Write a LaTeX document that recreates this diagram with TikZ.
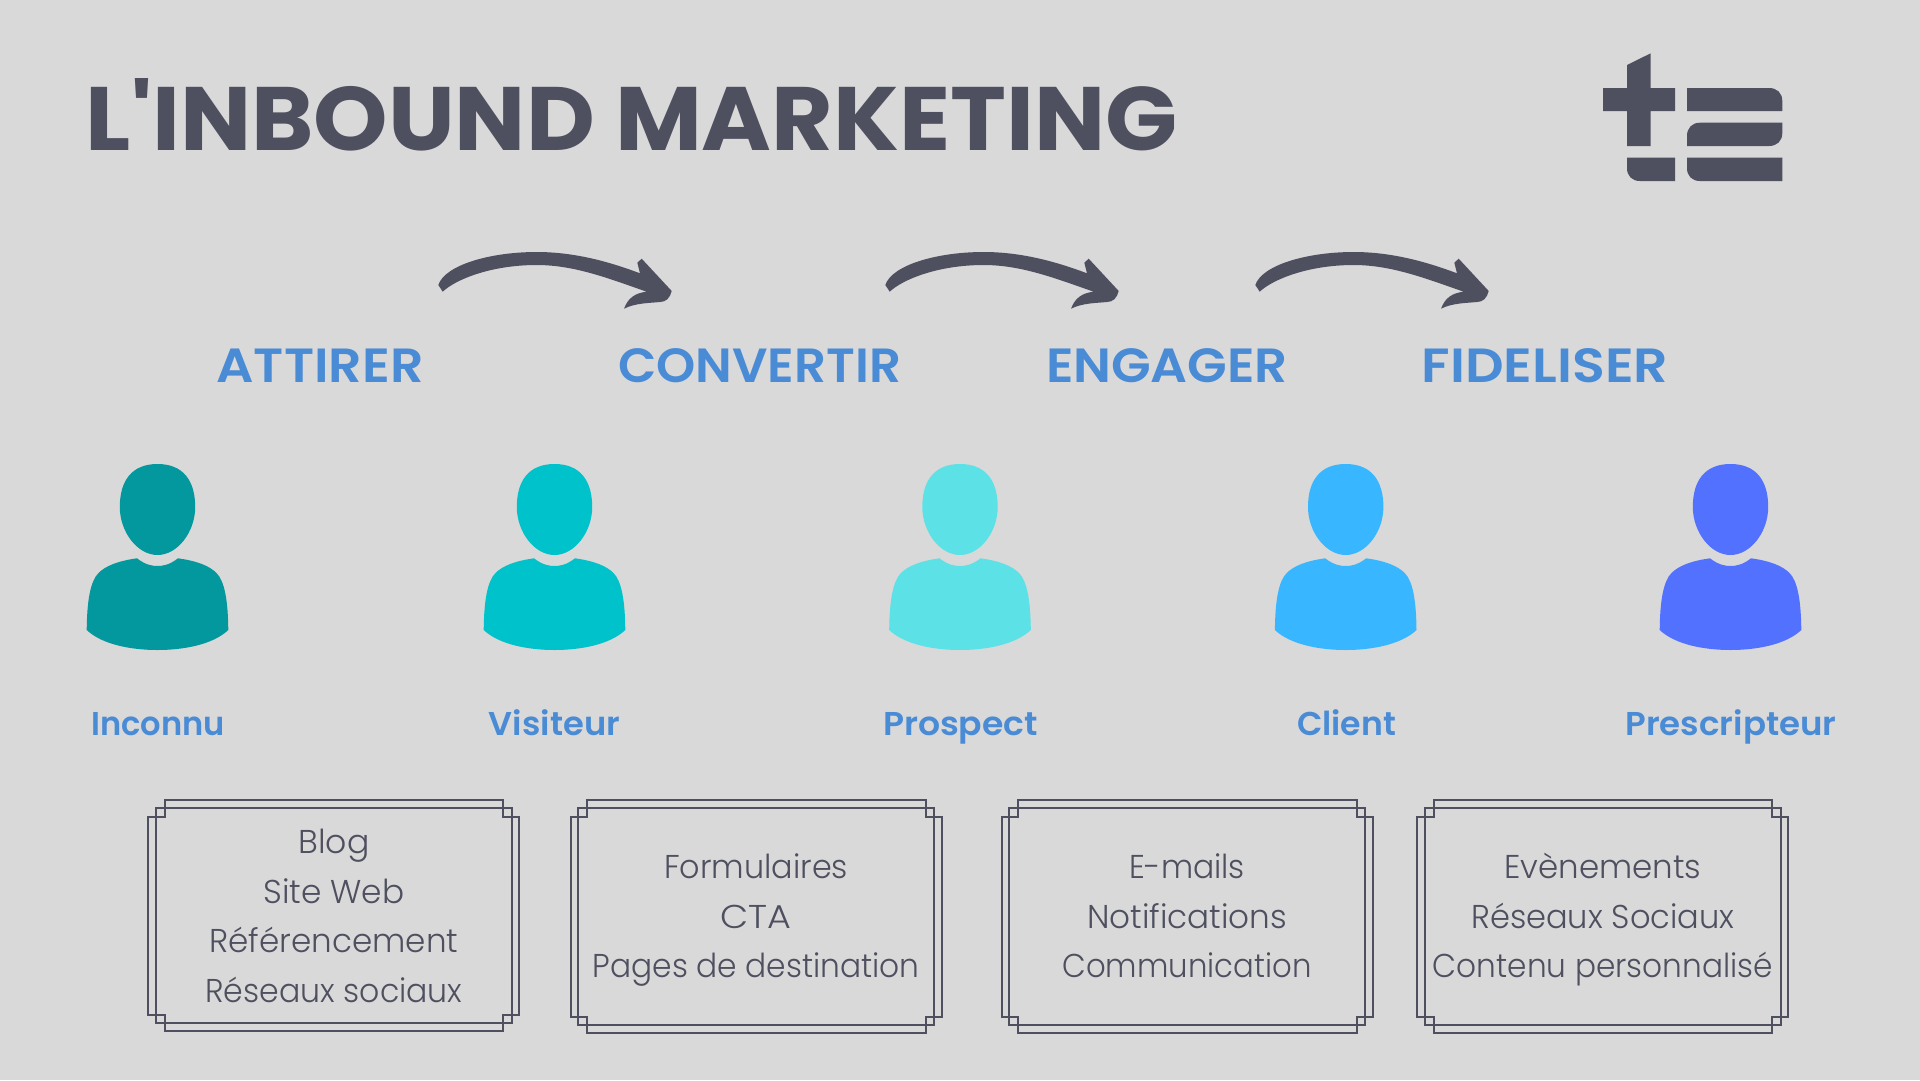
\documentclass[tikz,border=0pt]{standalone}
\usepackage{fontspec}
\usepackage{graphicx}
\setmainfont{Poppins}[Ligatures=TeXOff,UprightFont=* Light,BoldFont=* SemiBold]
\newfontfamily\titlefont{Poppins}[Ligatures=TeXOff,UprightFont=* Bold]
\definecolor{bgc}{HTML}{D9D9D9}
\definecolor{dark}{HTML}{4E4F5F}
\definecolor{headc}{HTML}{4A8BD6}
\definecolor{pa}{HTML}{03989E}
\definecolor{pb}{HTML}{00C2CB}
\definecolor{pc}{HTML}{5CE1E6}
\definecolor{pd}{HTML}{38B6FF}
\definecolor{pe}{HTML}{5271FF}
\newcommand{\fw}[2]{\resizebox{#1pt}{\height}{#2}}
\newcommand{\bl}[2]{\rule[-10.5pt]{0pt}{44.5pt}\fw{#1}{#2}}
\tikzset{
  x=1pt,y=-1pt,
  title/.style={inner sep=0pt,text=dark,font=\fontsize{90}{90}\titlefont},
  stage/.style={inner sep=0pt,text=headc,font=\fontsize{48}{48}\selectfont\bfseries},
  role/.style={inner sep=0pt,text=headc,font=\fontsize{33}{33}\selectfont\bfseries},
  toolbox/.style={draw=dark,line width=2pt,minimum width=355.7pt,inner sep=0pt,align=center,text=dark,font=\fontsize{33}{49.5}\selectfont},
  frameline/.style={draw=dark,line width=2pt}
}
\newcommand{\personfig}[2]{%
  \begin{scope}[shift={(#1,0)}]
    \fill[#2] (0,464) .. controls (26,464) and (37.7,481) .. (37.7,507)
      .. controls (37.7,532) and (20,555) .. (0,555)
      .. controls (-20,555) and (-37.7,532) .. (-37.7,507)
      .. controls (-37.7,481) and (-26,464) .. cycle;
    \fill[#2] (20.5,558.3) .. controls (40,561) and (52,566) .. (59,573)
      .. controls (67,581) and (70.5,600) .. (70.8,630)
      .. controls (55,645) and (25,650) .. (0,650)
      .. controls (-25,650) and (-55,645) .. (-70.8,630)
      .. controls (-70.5,600) and (-67,581) .. (-59,573)
      .. controls (-52,566) and (-40,561) .. (-20.5,558.3)
      .. controls (-12,565) and (-5,566) .. (0,566)
      .. controls (5,566) and (12,565) .. cycle;
  \end{scope}}
\newcommand{\curvearrow}[2]{%
  \fill[dark,shift={(#1,#2)}] (438.3,285) -- (442.7,291.7)
    .. controls (455,280) and (490,265) .. (536.7,265)
    .. controls (575,265) and (610,279) .. (646.7,291.7)
    .. controls (635,293) and (628,298) .. (624,308.7)
    .. controls (635,303) and (650,303) .. (660,302)
    .. controls (666,302) and (670,298) .. (671.7,291)
    -- (641.7,258.7) -- (637.3,262.7) -- (640,273.3)
    .. controls (610,262) and (575,252) .. (536.7,252)
    .. controls (490,252) and (445,265) .. cycle;}
% #1 centre x, #2 joint y, #3 outer bottom y
\newcommand{\crossframe}[3]{%
  \draw[frameline,shift={(#1,0)}] (-169,800) -- (-169,816.7) -- (-185.5,816.7) -- (-185.5,#2)
    -- (-169,#2) -- (-169,#3) -- (169.5,#3) -- (169.5,#2) -- (185.5,#2)
    -- (185.5,816.7) -- (169.5,816.7) -- (169.5,800) -- cycle;}
\begin{document}
\begin{tikzpicture}
\useasboundingbox (0,0) rectangle (1920,1080);
\fill[bgc] (0,0) rectangle (1920,1080);
\node[title] (ttl) at (632,115) {\fw{1092}{L'INBOUND MARKETING}};
% logo
\fill[dark] (1627,65) -- (1650.7,53.3) -- (1650.7,88) -- (1675,88) -- (1675,111) -- (1650.7,111)
  -- (1650.7,146) -- (1627,146) -- (1627,111) -- (1603,111) -- (1603,88) -- (1627,88) -- cycle;
\fill[dark] (1627,157.7) -- (1675,157.7) -- (1675,181) -- (1640,181) .. controls (1632,181) and (1627,176) .. (1627,168) -- cycle;
\fill[dark] (1687,88) -- (1769,88) .. controls (1777,88) and (1782.3,93) .. (1782.3,101) -- (1782.3,111) -- (1687,111) -- cycle;
\fill[dark] (1700,122.7) -- (1782.3,122.7) -- (1782.3,133) .. controls (1782.3,141) and (1777,146) .. (1769,146) -- (1687,146) -- (1687,136) .. controls (1687,128) and (1692,122.7) .. (1700,122.7) -- cycle;
\fill[dark] (1687,157.7) -- (1782.3,157.7) -- (1782.3,181) -- (1700,181) .. controls (1692,181) and (1687,176) .. (1687,168) -- cycle;
% arrows
\curvearrow{0}{0}
\curvearrow{447}{0}
\curvearrow{817}{0}
% stages
\node[stage] (s1) at (320,366) {\fw{207}{ATTIRER}};
\node[stage] (s2) at (759.7,366) {\fw{283}{CONVERTIR}};
\node[stage] (s3) at (1167,366) {\fw{242}{ENGAGER}};
\node[stage] (s4) at (1545,366) {\fw{246.5}{FIDELISER}};
% people
\personfig{157.5}{pa}
\personfig{554.5}{pb}
\personfig{960}{pc}
\personfig{1345.7}{pd}
\personfig{1730.5}{pe}
\node[role,anchor=base] (r1) at (158,735) {\fw{133.5}{Inconnu}};
\node[role,anchor=base] (r2) at (554.5,735) {\fw{131}{Visiteur}};
\node[role,anchor=base] (r3) at (960.5,735) {\fw{155}{Prospect}};
\node[role,anchor=base] (r4) at (1346.5,735) {\fw{99}{Client}};
\node[role,anchor=base] (r5) at (1731,735) {\fw{211}{Prescripteur}};
% boxes
\node[toolbox,minimum height=215pt] (b1) at (333.9,915.2) {\rule{0pt}{36.3pt}\bl{71}{Blog}\\\bl{141}{Site Web}\\\bl{249}{Référencement}\\\bl{257}{Réseaux sociaux}};
\crossframe{333.9}{1015}{1030.7}
\node[toolbox,minimum height=217.3pt] (b2) at (756.2,916.35) {\bl{184}{Formulaires}\\\bl{71}{CTA}\\\bl{327}{Pages de destination}};
\crossframe{756.2}{1017.3}{1032.7}
\node[toolbox,minimum height=217.3pt] (b3) at (1187,916.35) {\bl{116}{E-mails}\\\bl{200}{Notifications}\\\bl{249}{Communication}};
\crossframe{1187}{1017.3}{1032.7}
\node[toolbox,minimum height=217.3pt] (b4) at (1602.8,916.35) {\bl{197}{Evènements}\\\bl{263}{Réseaux Sociaux}\\\bl{340}{Contenu personnalisé}};
\crossframe{1602.8}{1017.3}{1032.7}
\end{tikzpicture}
\end{document}
